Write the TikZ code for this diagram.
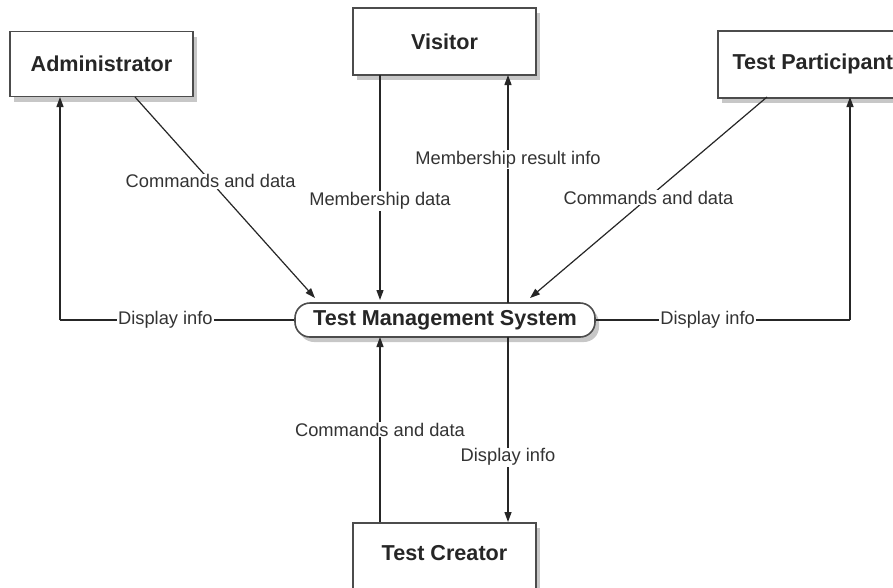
\documentclass[tikz,border=0pt]{standalone}
\usepackage{fontspec}
\setmainfont{Liberation Sans}
\usetikzlibrary{arrows.meta,shadows}
\begin{document}
\begin{tikzpicture}[x=1pt,y=-1pt,
  actor/.style={draw=black!70,line width=1.6pt,fill=white,text=black!85,font=\fontsize{21.6}{24}\selectfont\bfseries,
    drop shadow={shadow xshift=4pt,shadow yshift=-5pt,opacity=0.22,fill=black}},
  flow/.style={draw=black!85,line width=1.2pt,-{Triangle[length=10pt,width=7pt]}},
  plain/.style={draw=black!85,line width=1.2pt},
  lbl/.style={fill=white,text=black!80,inner sep=1pt,font=\fontsize{18.3}{20}\selectfont}]
\clip (0,0) rectangle (893,587);
\fill[white] (0,0) rectangle (893,587);
% boxes
\node[actor,minimum width=183pt,minimum height=65pt] (adm) at (101.5,64) {Administrator};
\node[actor,minimum width=183pt,minimum height=67pt] (vis) at (444.5,41.5) {Visitor};
\node[actor,minimum width=190pt,minimum height=67pt,anchor=north west] (par) at (717,30) {};
\node[font=\fontsize{21.6}{24}\selectfont\bfseries,text=black!85,anchor=west] at (729,63.5) {Test Participant};
\node[actor,minimum width=183pt,minimum height=90pt,anchor=north] (cre) at (444.5,522) {};
\node[font=\fontsize{21.6}{24}\selectfont\bfseries,text=black!85] at (444.5,553) {Test Creator};
\node[actor,rounded corners=15pt,minimum width=300pt,minimum height=34pt] (tms) at (445,320) {Test Management System};
% coordinates
\coordinate (a1) at (60,320);
\coordinate (p1) at (850,320);
% Administrator
\draw[plain] (tms.west) -- node[lbl,pos=0.55] {Display info} (a1);
\draw[flow] (a1) -- (60,97);
\draw[flow] (135,97) -- node[lbl,pos=0.42] {Commands and data} (315,298);
% Visitor
\draw[flow] (380,75) -- node[lbl,pos=0.56] {Membership data} (380,300);
\draw[flow] (508,303) -- node[lbl,pos=0.63] {Membership result info} (508,75);
% Participant
\draw[flow] (767,97) -- node[lbl,pos=0.5] {Commands and data} (530,298);
\draw[plain] (tms.east) -- node[lbl,pos=0.44] {Display info} (p1);
\draw[flow] (p1) -- (850,97);
% Creator
\draw[flow] (380,522) -- node[lbl,pos=0.5] {Commands and data} (380,337);
\draw[flow] (508,337) -- node[lbl,pos=0.65] {Display info} (508,522);
\end{tikzpicture}
\end{document}
